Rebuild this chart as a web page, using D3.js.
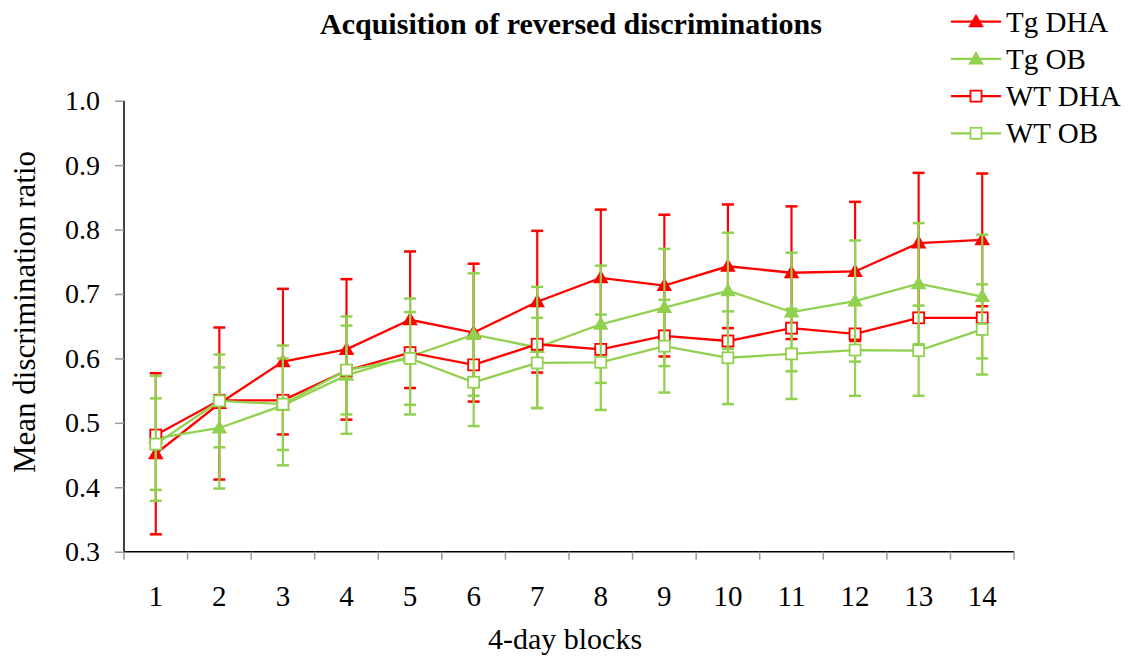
<!DOCTYPE html>
<html>
<head>
<meta charset="utf-8">
<script src="https://cdn.jsdelivr.net/npm/d3@7"></script>
<style>
  html, body { margin: 0; padding: 0; background: #fff; }
  svg text { font-family: "Liberation Serif", "Times New Roman", serif; fill: #000; }
</style>
</head>
<body>
<svg id="chart" width="1129" height="656"></svg>
<script>
// Blocks of four days
const blocks = ["1","2","3","4","5","6","7","8","9","10","11","12","13","14"];

// Mean discrimination ratio per block
const tgDHA = [0.452,0.530,0.595,0.614,0.660,0.640,0.688,0.725,0.713,0.743,0.733,0.735,0.779,0.784];
const tgOB  = [0.476,0.492,0.527,0.574,0.603,0.637,0.617,0.653,0.679,0.705,0.672,0.689,0.716,0.696];
const wtDHA = [0.481,0.535,0.535,0.581,0.609,0.590,0.622,0.614,0.635,0.627,0.647,0.638,0.663,0.663];
const wtOB  = [0.467,0.534,0.529,0.582,0.600,0.563,0.593,0.594,0.619,0.601,0.607,0.613,0.612,0.645];

// Error half-widths
const tgDHAErr = [0.125,0.118,0.113,0.109,0.106,0.107,0.110,0.106,0.110,0.096,0.103,0.108,0.109,0.103];
const tgOBErr  = [0.097,0.094,0.093,0.091,0.090,0.095,0.094,0.091,0.091,0.090,0.092,0.094,0.094,0.096];
const wtOBErr  = [0.071,0.072,0.071,0.069,0.072,0.068,0.070,0.074,0.072,0.072,0.070,0.071,0.070,0.070];

const yTicks = [0.3,0.4,0.5,0.6,0.7,0.8,0.9,1.0];

const RED = "#ff0000", GREEN = "#92d050";

const series = [
  { name: "Tg DHA", values: tgDHA, err: tgDHAErr, color: RED,   marker: "triangle" },
  { name: "Tg OB",  values: tgOB,  err: tgOBErr,  color: GREEN, marker: "triangle" },
  { name: "WT DHA", values: wtDHA, err: null,     color: RED,   marker: "square" },
  { name: "WT OB",  values: wtOB,  err: wtOBErr,  color: GREEN, marker: "square" }
];

const svg = d3.select("#chart");
const plot = { left: 124, right: 1014, top: 100.7, bottom: 551.7 };

const x = d3.scaleBand().domain(blocks).range([plot.left, plot.right]).padding(0);
const y = d3.scaleLinear().domain([0.3, 1.0]).range([plot.bottom, plot.top]);
const cx = d => x(d) + x.bandwidth() / 2;

// Title
svg.append("text")
  .attr("x", 571).attr("y", 34)
  .attr("text-anchor", "middle")
  .attr("font-size", 30).attr("font-weight", "bold")
  .text("Acquisition of reversed discriminations");

// Y axis
const yAxis = svg.append("g")
  .attr("transform", `translate(${plot.left},0)`)
  .call(d3.axisLeft(y).tickValues(yTicks).tickFormat(d3.format(".1f")).tickSize(9).tickPadding(15));
yAxis.select(".domain").attr("stroke", "#000").attr("stroke-width", 1.5).attr("d", `M0,${plot.top}V${plot.bottom}`);
yAxis.selectAll(".tick line").attr("stroke", "#999").attr("stroke-width", 1.5);
yAxis.selectAll(".tick text").attr("font-size", 28).attr("fill", "#000");

// X axis with ticks at block boundaries
const xAxis = svg.append("g")
  .attr("transform", `translate(0,${plot.bottom})`);
xAxis.append("line")
  .attr("x1", plot.left).attr("x2", plot.right)
  .attr("stroke", "#000").attr("stroke-width", 1.5);
xAxis.selectAll(".xtick")
  .data(blocks.concat(["end"]))
  .join("line")
  .attr("class", "xtick")
  .attr("x1", (d, i) => plot.left + i * x.bandwidth())
  .attr("x2", (d, i) => plot.left + i * x.bandwidth())
  .attr("y1", 0).attr("y2", 8)
  .attr("stroke", "#999").attr("stroke-width", 1.5);
xAxis.selectAll(".xlabel")
  .data(blocks)
  .join("text")
  .attr("class", "xlabel")
  .attr("x", d => cx(d)).attr("y", 54)
  .attr("text-anchor", "middle")
  .attr("font-size", 29)
  .text(d => d);

// Axis titles
svg.append("text")
  .attr("x", 565).attr("y", 649)
  .attr("text-anchor", "middle")
  .attr("font-size", 30)
  .text("4-day blocks");
svg.append("text")
  .attr("transform", `translate(35,312) rotate(-90)`)
  .attr("text-anchor", "middle")
  .attr("font-size", 31)
  .text("Mean discrimination ratio");

// Series
const line = d3.line().x((d, i) => cx(blocks[i])).y(d => y(d));
const tri = d3.symbol().type(d3.symbolTriangle).size(105);

function drawMarker(g, s, px, py) {
  if (s.marker === "triangle") {
    g.append("path").attr("d", tri()).attr("transform", `translate(${px},${py + 1})`)
      .attr("fill", s.color);
  } else {
    g.append("rect").attr("x", px - 5.5).attr("y", py - 5.5).attr("width", 11).attr("height", 11)
      .attr("fill", "#fff").attr("stroke", s.color).attr("stroke-width", 1.8);
  }
}

series.forEach(s => {
  const g = svg.append("g").attr("class", "series");
  if (s.err) {
    s.values.forEach((v, i) => {
      const px = cx(blocks[i]);
      const hi = y(v + s.err[i]), lo = y(v - s.err[i]);
      g.append("line").attr("x1", px).attr("x2", px).attr("y1", hi).attr("y2", lo)
        .attr("stroke", s.color).attr("stroke-width", 2.2);
      [hi, lo].forEach(yy => g.append("line")
        .attr("x1", px - 6).attr("x2", px + 6).attr("y1", yy).attr("y2", yy)
        .attr("stroke", s.color).attr("stroke-width", 2.5));
    });
  }
  g.append("path").datum(s.values).attr("d", line)
    .attr("fill", "none").attr("stroke", s.color).attr("stroke-width", 2.3);
  s.values.forEach((v, i) => drawMarker(g, s, cx(blocks[i]), y(v)));
});

// Legend
const legend = svg.append("g");
series.forEach((s, i) => {
  const ly = 21.7 + i * 37.2;
  const lg = legend.append("g");
  lg.append("line").attr("x1", 951).attr("x2", 1001).attr("y1", ly).attr("y2", ly)
    .attr("stroke", s.color).attr("stroke-width", 2.3);
  drawMarker(lg, s, 976, ly);
  lg.append("text").attr("x", 1006).attr("y", ly + 10)
    .attr("font-size", 29).text(s.name);
});
</script>
</body>
</html>
